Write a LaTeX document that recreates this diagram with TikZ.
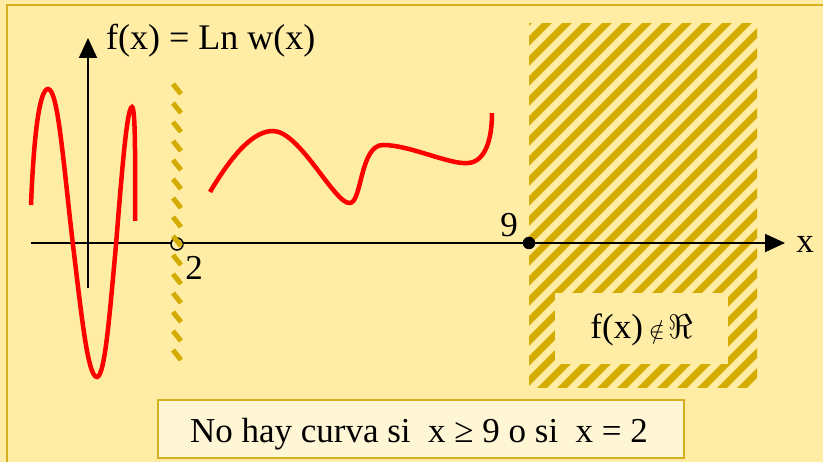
\documentclass[tikz,border=0pt]{standalone}
\usepackage{graphicx}
\usepackage{fontspec}
\setmainfont{Liberation Serif}
\usetikzlibrary{arrows.meta}
\definecolor{bg}{RGB}{255,237,166}
\definecolor{gold}{RGB}{212,172,0}
\definecolor{goldline}{RGB}{214,176,30}
\definecolor{boxfill}{RGB}{255,246,214}
\newcommand{\mysym}[2]{\scalebox{#1}{\fontsize{10}{12}\selectfont$#2$}}
\begin{document}
\begin{tikzpicture}[x=1pt,y=-1pt,
  lbl/.style={inner sep=0pt, font=\fontsize{35}{40}\selectfont},
  curve/.style={red, line width=4.5pt},
  axis/.style={line width=2pt, -{Triangle[length=20pt,width=18pt]}},
  hatchline/.style={gold, line width=7pt},
  dashpiece/.style={gold, line width=5pt}]
\useasboundingbox (0,0) rectangle (823,462);
\fill[bg] (0,0) rectangle (823,462);
\draw[goldline, line width=2.5pt] (7,470) -- (7,5) -- (830,5);
% hatched region
\begin{scope}
  \clip (529,24) rectangle (757,388);
  \foreach \i in {0,...,32} { \draw[hatchline] ({130+20*\i},400) -- ++(400,-400); }
\end{scope}
\fill[bg] (555,293) rectangle (728,364);
\node[lbl, anchor=base] (notin) at (642,339) {f(x)\hspace{6pt}\mysym{2.4}{\notin}\hspace{4pt}\mysym{3.4}{\Re}};
% axes
\coordinate (xs) at (31,243);
\coordinate (xe) at (785,243);
\coordinate (ys) at (88,288);
\coordinate (ye) at (88,38);
\draw[axis] (xs) -- (xe);
\draw[axis] (ys) -- (ye);
% hole at 2 and dashed asymptote
\node[circle, draw=black, line width=1.5pt, minimum size=12pt, inner sep=0pt, fill=bg] (hole) at (177,244) {};
\foreach \y in {84,103,...,350} { \draw[dashpiece] (173,\y) -- (181,{\y+10}); }
% point at 9
\node[circle, fill=black, minimum size=12.5pt, inner sep=0pt] (p9) at (529,243) {};
% labels
\node[lbl, anchor=base] (l9) at (509,237) {9};
\node[lbl, anchor=base] (l2) at (194,280) {2};
\node[lbl, anchor=base] (lx) at (805,253) {x};
\node[lbl, anchor=base west, font=\fontsize{36}{40}\selectfont] (title) at (106,50) {f(x) = Ln w(x)};
% curves
\draw[curve] (31,205) .. controls (34,130) and (40,89) .. (48,89)
  .. controls (58,89) and (63,160) .. (73,245)
  .. controls (82,320) and (88,377) .. (97,377)
  .. controls (105,377) and (110,310) .. (116,245)
  .. controls (122,170) and (127,107) .. (132,107)
  .. controls (136,107) and (135,180) .. (135,221);
\draw[curve] (210,192) .. controls (235,150) and (255,131) .. (273,131)
  .. controls (300,131) and (335,205) .. (350,203)
  .. controls (362,202) and (360,145) .. (383,145)
  .. controls (410,145) and (450,165) .. (468,163)
  .. controls (485,162) and (492,140) .. (492,113);
% bottom note
\node[draw=goldline, line width=2.5pt, fill=boxfill, minimum width=526pt, minimum height=58pt, inner sep=0pt] (box) at (421,429) {};
\node[lbl, anchor=base] (note) at (419,443) {No hay curva si\ \ x ≥ 9 o si\ \ x = 2};
\end{tikzpicture}
\end{document}
